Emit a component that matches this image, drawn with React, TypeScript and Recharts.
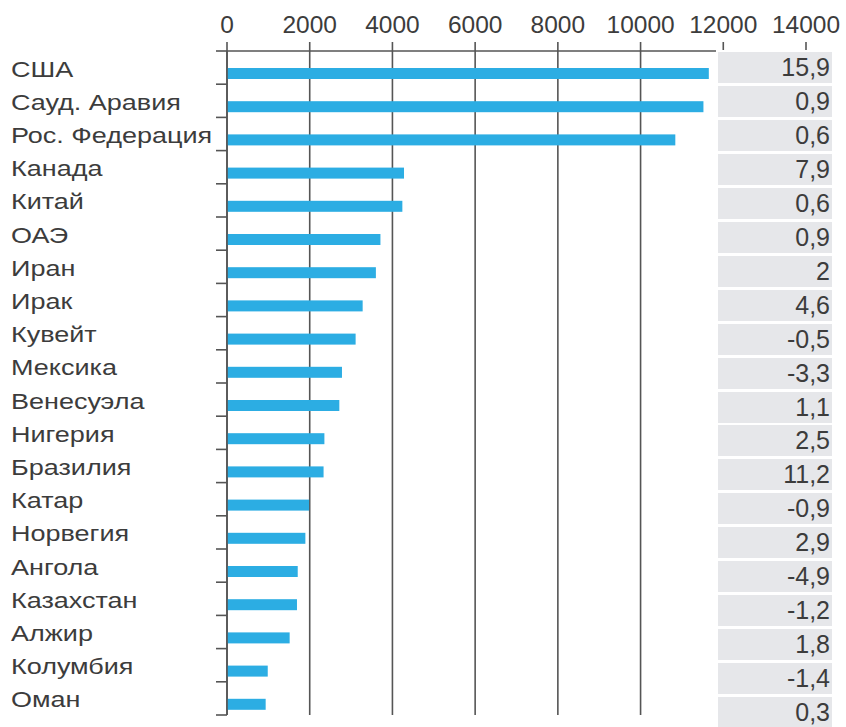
import React from 'react';
import { BarChart, Bar, XAxis, YAxis, CartesianGrid } from 'recharts';

// crude oil output, thousand barrels per day
const countries = [
  'США', 'Сауд. Аравия', 'Рос. Федерация', 'Канада', 'Китай', 'ОАЭ', 'Иран', 'Ирак',
  'Кувейт', 'Мексика', 'Венесуэла', 'Нигерия', 'Бразилия', 'Катар', 'Норвегия',
  'Ангола', 'Казахстан', 'Алжир', 'Колумбия', 'Оман',
];
const production = [
  11650, 11520, 10840, 4280, 4240, 3710, 3600, 3280, 3110, 2780, 2716, 2355, 2335,
  1985, 1895, 1710, 1692, 1515, 985, 935,
];
// change vs previous year, %
const changes = [
  '15,9', '0,9', '0,6', '7,9', '0,6', '0,9', '2', '4,6', '-0,5', '-3,3', '1,1', '2,5',
  '11,2', '-0,9', '2,9', '-4,9', '-1,2', '1,8', '-1,4', '0,3',
];
const xTicks = [0, 2000, 4000, 6000, 8000, 10000, 12000, 14000];

const data = countries.map((name, i) => ({ name, value: production[i] }));

const FONT = '"Liberation Sans", Arial, sans-serif';
const TEXT = '#3c3c3c';
const LINE = '#555555';
const BAR = '#2cade3';
const PLOT_LEFT = 227;

const CountryTick = (props: any) => {
  const { y, payload, index } = props;
  const half = payload?.offset || 16.6;
  return (
    <g>
      <g transform={`translate(11, ${y + 9}) scale(1.2, 1)`}>
        <text x={0} y={0} fontSize={22.5} fill={TEXT} fontFamily={FONT}>
          {payload.value}
        </text>
      </g>
      {index === 0 && (
        <line x1={PLOT_LEFT - 11} x2={PLOT_LEFT} y1={y - half} y2={y - half} stroke={LINE} strokeWidth={1.6} />
      )}
      <line x1={PLOT_LEFT - 11} x2={PLOT_LEFT} y1={y + half} y2={y + half} stroke={LINE} strokeWidth={1.6} />
    </g>
  );
};

const ShiftedBar = (p: any) => (
  <rect x={p.x} y={p.y + 6} width={p.width} height={p.height} fill={BAR} />
);

export default function App() {
  return (
    <div style={{ position: 'absolute', left: 0, top: 0, width: 846, height: 727, background: '#fff', fontFamily: FONT }}>
      <BarChart
        width={846}
        height={727}
        data={data}
        layout="vertical"
        margin={{ top: 0, right: 40, bottom: 12, left: 0 }}
      >
        <CartesianGrid horizontal={false} stroke={LINE} strokeWidth={1.6} />
        <XAxis
          type="number"
          orientation="top"
          domain={[0, 14000]}
          ticks={xTicks}
          interval={0}
          height={51}
          tickSize={9}
          tickMargin={9}
          axisLine={{ stroke: LINE, strokeWidth: 1.6 }}
          tickLine={{ stroke: LINE, strokeWidth: 1.6 }}
          tick={{ fill: TEXT, fontSize: 24.5, fontFamily: FONT }}
        />
        <YAxis
          type="category"
          dataKey="name"
          width={PLOT_LEFT}
          interval={0}
          tickLine={false}
          axisLine={{ stroke: LINE, strokeWidth: 1.6 }}
          tick={<CountryTick />}
        />
        <Bar dataKey="value" barSize={11} shape={<ShiftedBar />} isAnimationActive={false} />
      </BarChart>
      <div style={{ position: 'absolute', left: 716, top: 50, width: 130, height: 677, background: '#fff', overflow: 'hidden' }}>
        {changes.map((c, i) => (
          <div
            key={i}
            style={{
              position: 'absolute',
              left: 2,
              top: 2 + i * 33.95,
              width: 114,
              height: 31,
              lineHeight: '31px',
              background: '#e6e7ea',
              color: TEXT,
              fontSize: 25,
              textAlign: 'right',
              paddingRight: 2,
              boxSizing: 'border-box',
            }}
          >
            {c}
          </div>
        ))}
      </div>
    </div>
  );
}
